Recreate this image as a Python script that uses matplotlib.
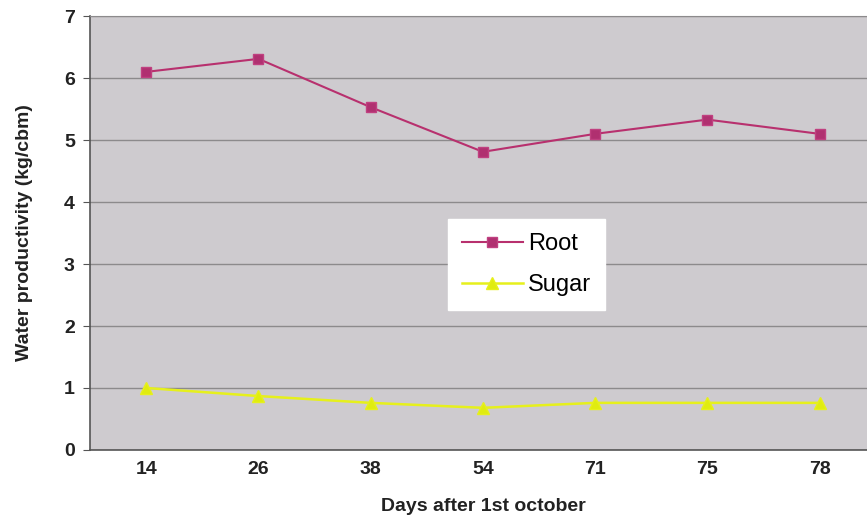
import matplotlib.pyplot as plt
import numpy as np

days = ['14', '26', '38', '54', '71', '75', '78']
root = [6.10, 6.31, 5.53, 4.81, 5.10, 5.33, 5.10]
sugar = [1.00, 0.87, 0.76, 0.68, 0.76, 0.76, 0.76]

plt.rcParams['font.family'] = ['Liberation Sans', 'DejaVu Sans']

fig = plt.figure(figsize=(8.67, 5.19), dpi=100)
ax = fig.add_axes([0.104, 0.133, 0.906, 0.836])
ax.set_facecolor('#cecbcf')

x = np.arange(len(days))
ax.plot(x, root, color='#b8306e', lw=1.5, marker='s', ms=7,
        markerfacecolor='#b03070', markeredgecolor='#c04080', label='Root')
ax.plot(x, sugar, color='#e6f01c', lw=1.8, marker='^', ms=8,
        markerfacecolor='#e0ec10', markeredgecolor='#e6f01c', label='Sugar')

ax.set_xlim(-0.5, len(days) - 0.5)
ax.set_ylim(0, 7)
ax.set_yticks(range(8))
ax.set_xticks(x)
ax.set_xticklabels(days)
ax.yaxis.grid(True, color='#8c8a8c', lw=1)
ax.set_axisbelow(True)
ax.tick_params(axis='both', labelsize=14, length=0, pad=8)
for t in ax.get_xticklabels() + ax.get_yticklabels():
    t.set_fontweight('bold')
    t.set_color('#222222')
ax.tick_params(axis='y', length=5, color='#555555', pad=6)

for s in ['left', 'bottom']:
    ax.spines[s].set_color('#555555')
    ax.spines[s].set_linewidth(1.2)
for s in ['top', 'right']:
    ax.spines[s].set_color('#8c8a8c')

ax.set_xlabel('Days after 1st october', fontsize=14, fontweight='bold',
              color='#222222', labelpad=14)
ax.set_ylabel('Water productivity (kg/cbm)', fontsize=14, fontweight='bold',
              color='#222222', labelpad=22)

leg = ax.legend(loc='upper left', bbox_to_anchor=(0.44, 0.56), fontsize=17,
                frameon=True, fancybox=False, framealpha=1, edgecolor='white',
                handlelength=2.6, labelspacing=0.8, borderpad=0.6,
                handletextpad=0.2)

fig.savefig('out.png', dpi=100)
